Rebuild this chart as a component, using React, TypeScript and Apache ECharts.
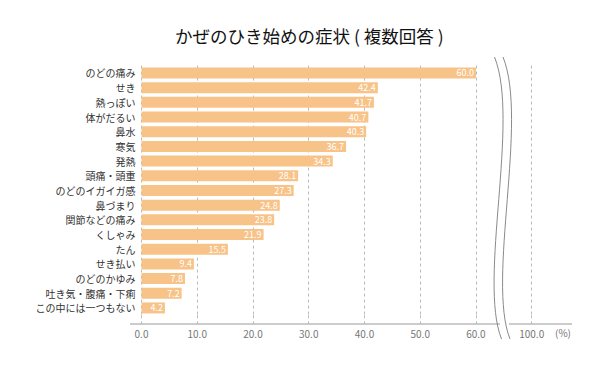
import React, { useEffect, useRef } from "react";
import * as echarts from "echarts";

const categories = [
  "のどの痛み",
  "せき",
  "熱っぽい",
  "体がだるい",
  "鼻水",
  "寒気",
  "発熱",
  "頭痛・頭重",
  "のどのイガイガ感",
  "鼻づまり",
  "関節などの痛み",
  "くしゃみ",
  "たん",
  "せき払い",
  "のどのかゆみ",
  "吐き気・腹痛・下痢",
  "この中には一つもない",
];
const values = [60.0, 42.4, 41.7, 40.7, 40.3, 36.7, 34.3, 28.1, 27.3, 24.8, 23.8, 21.9, 15.5, 9.4, 7.8, 7.2, 4.2];
const breakLabel = "100.0";
const unitLabel = "(%)";
const titleText = "かぜのひき始めの症状 ( 複数回答 )";

const FONT = '"Noto Sans CJK JP", "Noto Sans", sans-serif';

export default function App() {
  const ref = useRef<HTMLDivElement>(null);
  useEffect(() => {
    if (!ref.current) return;
    const chart = echarts.init(ref.current, null, { renderer: "svg" });
    const axisY = 324;
    const gray = "#8a8a8a";
    chart.setOption({
      animation: false,
      backgroundColor: "#ffffff",
      textStyle: { fontFamily: FONT },
      title: {
        text: titleText,
        left: 170,
        top: 22,
        textStyle: { fontSize: 17.5, fontWeight: "normal", color: "#111", fontFamily: FONT },
      },
      grid: { left: 141.5, right: 76.3, top: 65.6, bottom: 62.7, containLabel: false },
      xAxis: {
        type: "value",
        min: 0,
        max: 70,
        interval: 10,
        offset: 9,
        axisLine: { show: false },
        axisTick: { show: true, inside: true, length: 9, lineStyle: { color: "#bbbbbb", type: [3, 3] } },
        splitLine: { show: true, lineStyle: { color: "#bbbbbb", type: [3, 3] } },
        axisLabel: {
          color: "#777",
          fontSize: 10,
          margin: 4,
          fontFamily: FONT,
          formatter: (v: number) => (v === 70 ? breakLabel : v.toFixed(1)),
        },
      },
      yAxis: {
        type: "category",
        data: categories,
        inverse: true,
        axisLine: { show: false },
        axisTick: { show: false },
        axisLabel: { color: "#333", fontSize: 10, margin: 6, fontFamily: FONT },
      },
      series: [
        {
          type: "bar",
          data: values,
          barWidth: 11,
          itemStyle: { color: "#F8C388" },
          label: {
            show: true,
            position: "insideRight",
            distance: 2,
            color: "#fff",
            fontSize: 9,
            fontFamily: FONT,
            formatter: (p: any) => Number(p.value).toFixed(1),
          },
        },
      ],
      graphic: [
        { type: "line", shape: { x1: 130, y1: axisY, x2: 500, y2: axisY }, style: { stroke: "#999", lineWidth: 1 } },
        { type: "line", shape: { x1: 509, y1: axisY, x2: 572, y2: axisY }, style: { stroke: "#999", lineWidth: 1 } },
        {
          type: "bezierCurve",
          shape: { x1: 494.5, y1: 57, x2: 501.5, y2: 339, cpx1: 520, cpy1: 120, cpx2: 478, cpy2: 280 },
          style: { stroke: gray, lineWidth: 1, fill: "none" },
        },
        {
          type: "bezierCurve",
          shape: { x1: 503, y1: 57, x2: 510, y2: 339, cpx1: 528.5, cpy1: 120, cpx2: 486.5, cpy2: 280 },
          style: { stroke: gray, lineWidth: 1, fill: "none" },
        },
        {
          type: "text",
          left: 555,
          top: 327,
          style: { text: unitLabel, fill: "#777", fontSize: 10, fontFamily: FONT },
        },
      ],
    });
    return () => chart.dispose();
  }, []);
  return <div ref={ref} style={{ position: "fixed", left: 0, top: 0, width: 608, height: 378 }} />;
}
